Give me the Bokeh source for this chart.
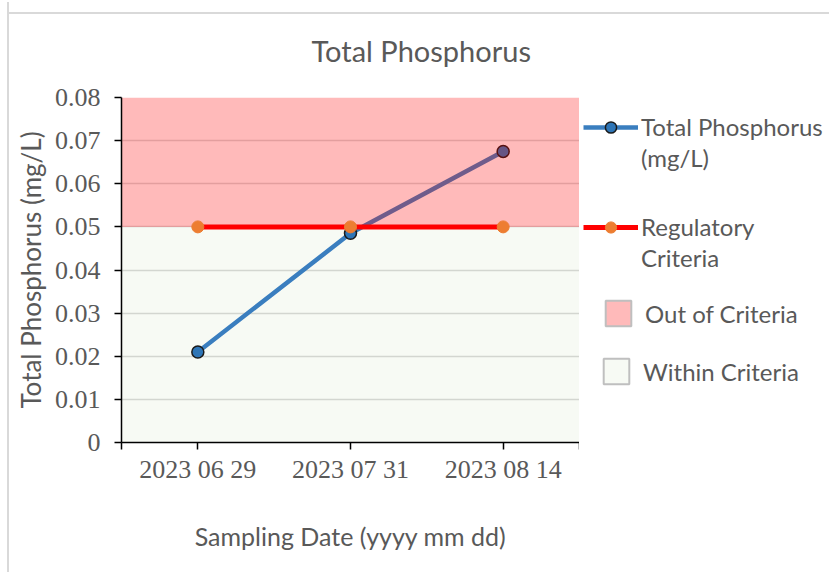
from bokeh.plotting import figure
from bokeh.layouts import row
from bokeh.models import (Range1d, FixedTicker, CustomJSTickFormatter, Legend, LegendItem,
                          ColumnDataSource)
from bokeh.embed import file_html
from bokeh.resources import INLINE

# ---- data ----
dates = ["2023 06 29", "2023 07 31", "2023 08 14"]
phosphorus = [0.021, 0.0485, 0.0675]
criteria = [0.05, 0.05, 0.05]
criteria_level = 0.05
y_max = 0.08
y_ticks = [0, 0.01, 0.02, 0.03, 0.04, 0.05, 0.06, 0.07, 0.08]

title_text = "Total Phosphorus"
x_label = "Sampling Date (yyyy mm dd)"
y_label = "Total Phosphorus (mg/L)"

TEXT = "#595959"
SANS = "Lato"
SERIF = "Liberation Serif"
BLUE_LINE, BLUE_PT = "#3A7EBF", "#2E75B6"
RED, ORANGE = "#FF0000", "#ED7D31"
GREEN = "#70AD47"

x = list(range(len(dates)))
x_lo, x_hi = x[0] - 0.5, x[-1] + 0.5

MB_TOP, FRAME_H, MB_BOTTOM = 95, 345, 130
TOTAL_H = MB_TOP + FRAME_H + MB_BOTTOM

p = figure(frame_width=458, frame_height=FRAME_H,
           min_border_left=112, min_border_right=0,
           min_border_top=MB_TOP, min_border_bottom=MB_BOTTOM,
           x_range=Range1d(x_lo, x_hi), y_range=Range1d(0, y_max),
           output_backend="svg", toolbar_location=None)
p.outline_line_color = None
p.border_fill_alpha = 0

src = ColumnDataSource(dict(x=x, tp=phosphorus, crit=criteria))
band_in = ColumnDataSource(dict(left=[x_lo], right=[x_hi], bottom=[0], top=[criteria_level]))
band_out = ColumnDataSource(dict(left=[x_lo], right=[x_hi], bottom=[criteria_level], top=[y_max]))

p.quad(left="left", right="right", bottom="bottom", top="top", source=band_in,
       fill_color=GREEN, fill_alpha=0.06, line_color=None)
p.ygrid.ticker = FixedTicker(ticks=y_ticks)
p.ygrid.grid_line_color = "#D9D9D9"
p.ygrid.grid_line_width = 1.5
p.xgrid.visible = False

p.line("x", "tp", source=src, line_color=BLUE_LINE, line_width=4.5)
p.scatter("x", "tp", source=src, size=12, fill_color=BLUE_PT, line_color="#1a1a1a", line_width=1.5)
p.quad(left="left", right="right", bottom="bottom", top="top", source=band_out,
       fill_color=RED, fill_alpha=0.27, line_color=None)
p.line("x", "crit", source=src, line_color=RED, line_width=5)
p.scatter("x", "crit", source=src, size=12, fill_color=ORANGE, line_color=ORANGE, line_width=1)

# axes
p.xaxis.ticker = FixedTicker(ticks=x, minor_ticks=[x_lo, x_hi])
p.xaxis.major_label_overrides = {i: d for i, d in zip(x, dates)}
p.yaxis.ticker = FixedTicker(ticks=y_ticks)
p.yaxis.formatter = CustomJSTickFormatter(code="return tick == 0 ? '0' : tick.toFixed(2);")
for ax in (p.xaxis[0], p.yaxis[0]):
    ax.axis_line_color = "black"
    ax.axis_line_width = 1.5
    ax.major_tick_line_color = "black"
    ax.major_tick_line_width = 1.5
    ax.major_tick_in = 0
    ax.major_tick_out = 7
    ax.major_label_text_font = SERIF
    ax.major_label_text_font_size = "26px"
    ax.major_label_text_color = TEXT
    ax.axis_label_text_font = SANS
    ax.axis_label_text_font_style = "normal"
    ax.axis_label_text_color = TEXT
p.xaxis.axis_label_text_font_size = "25px"
p.yaxis.axis_label_text_font_size = "26px"
p.xaxis.minor_tick_line_color = "black"
p.xaxis.minor_tick_line_width = 1.5
p.xaxis.minor_tick_in = 0
p.xaxis.minor_tick_out = 7
p.yaxis.minor_tick_line_color = None
p.xaxis.major_label_standoff = 5
p.yaxis.major_label_standoff = 14
p.xaxis.axis_label = x_label
p.yaxis.axis_label = y_label
p.xaxis.axis_label_standoff = 34
p.yaxis.axis_label_standoff = 5

# title
p.title.text = title_text
p.title.align = "left"
p.title.offset = 190
p.title.vertical_align = "middle"
p.title.standoff = 58
p.title.text_font = SANS
p.title.text_font_size = "29px"
p.title.text_font_style = "normal"
p.title.text_color = TEXT

# ---- legend panel ----
q = figure(width=250, height=TOTAL_H, x_range=Range1d(0, 1), y_range=Range1d(0, 1),
           x_axis_location=None, y_axis_location=None, min_border=0,
           output_backend="svg", toolbar_location=None)
q.outline_line_color = None
q.border_fill_alpha = 0
q.grid.visible = False

lg_tp_line = q.line("x", "tp", source=src, line_color=BLUE_LINE, line_width=4.5, visible=False)
lg_tp_pts = q.scatter("x", "tp", source=src, size=12, fill_color=BLUE_PT, line_color="#1a1a1a",
                      line_width=1.5, visible=False)
lg_cr_line = q.line("x", "crit", source=src, line_color=RED, line_width=5, visible=False)
lg_cr_pts = q.scatter("x", "crit", source=src, size=12, fill_color=ORANGE, line_color=ORANGE,
                      visible=False)
lg_blank = q.scatter("x", "tp", source=src, alpha=0, visible=False)
lg_out = q.quad(left="left", right="right", bottom="bottom", top="top", source=band_out,
                fill_color=RED, fill_alpha=0.27, line_color="#BFBFBF", line_width=2, visible=False)
lg_in = q.quad(left="left", right="right", bottom="bottom", top="top", source=band_in,
               fill_color=GREEN, fill_alpha=0.06, line_color="#BFBFBF", line_width=2, visible=False)


def make_legend(items, loc, gw, gh, standoff):
    lg = Legend(items=items, location=loc, glyph_width=gw, glyph_height=gh,
                padding=0, margin=0, border_line_color=None, background_fill_alpha=0,
                inactive_fill_alpha=0,
                label_text_font=SANS, label_text_font_size="24px", label_text_color=TEXT,
                label_standoff=standoff, spacing=2)
    q.add_layout(lg, "center")


make_legend([LegendItem(label="Total Phosphorus", renderers=[lg_tp_line, lg_tp_pts]),
             LegendItem(label="(mg/L)", renderers=[lg_blank])], (4, 270), 55, 28, 3)
make_legend([LegendItem(label="Regulatory", renderers=[lg_cr_line, lg_cr_pts]),
             LegendItem(label="Criteria", renderers=[lg_blank])], (4, 170), 55, 28, 3)
make_legend([LegendItem(label="Out of Criteria", renderers=[lg_out])], (23, 113), 32, 32, 11)
make_legend([LegendItem(label="Within Criteria", renderers=[lg_in])], (21, 55), 32, 32, 11)

layout = row(p, q)
layout.margin = (2, 0, 0, 7)
layout.styles = {
    "border-left": "2px solid #d9d9d9",
    "background-image": "linear-gradient(#d9d9d9, #d9d9d9)",
    "background-size": "100% 2px",
    "background-position": "0 10px",
    "background-repeat": "no-repeat",
}

open("out.html", "w").write(file_html(layout, INLINE))
